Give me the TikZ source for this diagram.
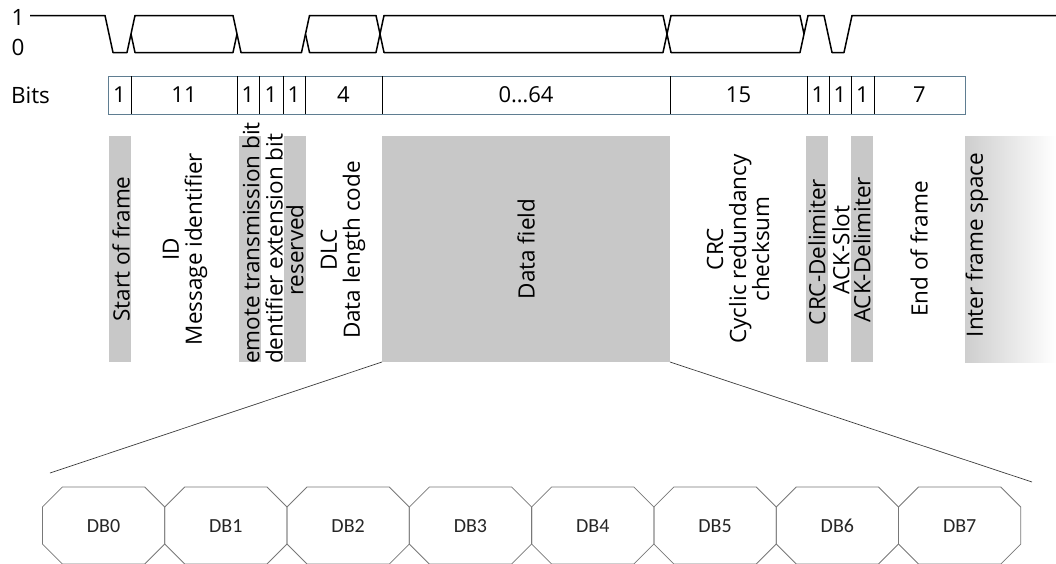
\documentclass[tikz,border=0pt]{standalone}
\usepackage{fontspec}
\setmainfont{Open Sans}
\newfontfamily\dbfont{Carlito}
\usetikzlibrary{calc}
\definecolor{bargray}{RGB}{200,200,200}
\definecolor{ifsgray}{RGB}{206,206,206}
\definecolor{boxedge}{RGB}{95,125,145}
\definecolor{octedge}{RGB}{120,120,120}
\definecolor{zoomcol}{RGB}{60,60,60}
\begin{document}
\begin{tikzpicture}[x=1pt,y=-1pt,
  lbl/.style={font=\fontsize{22.5}{23}\selectfont, inner sep=0pt, outer sep=0pt},
  vlbl/.style={lbl, rotate=90, align=center},
  field/.style={minimum height=226pt, inner sep=0pt, outer sep=0pt, anchor=north west},
  grayfield/.style={field, fill=bargray},
  cell/.style={minimum height=38pt, inner sep=0pt, outer sep=0pt, anchor=north west, font=\fontsize{22}{23}\selectfont},
  wave/.style={line width=1.5pt, black, line join=round},
  dbcell/.style={minimum width=122.3pt, minimum height=77pt, inner sep=0pt, outer sep=0pt, text height=13pt, text depth=0pt, font=\dbfont\fontsize{20}{22}\selectfont, text=black!85},
  dbtext/.style={inner sep=0pt, outer sep=0pt, text height=13pt, text depth=0pt, font=\dbfont\fontsize{20}{22}\selectfont, text=black!85},
  octline/.style={draw=octedge, line width=0.8pt},
  zoomline/.style={draw=zoomcol, line width=0.7pt}
]
\useasboundingbox (0,0) rectangle (1056,563);

% level labels
\node[lbl] (one) at (18,17) {1};
\node[lbl] (zero) at (18,47) {0};
\node[lbl, anchor=west] (bits) at (11,95) {Bits};

% waveform
\draw[wave] (30,15.5) -- (105,15.5) -- (113,52.5) -- (127,52.5) -- (135,15.5) -- (233,15.5) -- (241,52.5) -- (301.5,52.5) -- (309.5,15.5) -- (376,15.5) -- (384,52.5) -- (663,52.5) -- (671,15.5) -- (800,15.5) -- (804,34);
\draw[wave] (131,34) -- (135,52.5) -- (233,52.5) -- (237,34);
\draw[wave] (305.5,34) -- (309.5,52.5) -- (376,52.5) -- (384,15.5) -- (663,15.5) -- (671,52.5) -- (800,52.5) -- (808,15.5) -- (824,15.5) -- (832,52.5) -- (844,52.5) -- (852,15.5) -- (1056,15.5);

% bit count cells
\foreach \a/\b/\t/\n in {108/131/1/c1, 131/237/11/c2, 237/259/1/c3, 259/283/1/c4, 283/305/1/c5, 305/382/4/c6, 382/670/0…64/c7, 670/807/15/c8, 807/829/1/c9, 829/851/1/c10, 851/874/1/c11, 874/965/7/c12}{
  \node[cell, minimum width={(\b-\a)*1pt}] (\n) at (\a,76) {\t};
}
\draw[boxedge, line width=0.9pt] (c1.north west) rectangle (c12.south east);
\foreach \n in {1,...,11}{
  \draw[black, line width=0.9pt] (c\n.north east) -- (c\n.south east);
}

% field bars
\node[grayfield, minimum width=22pt] (sof) at (109,136) {};
\node[field, minimum width=106pt] (id) at (131,136) {};
\node[grayfield, minimum width=22pt] (rtr) at (239,136) {};
\node[field, minimum width=23pt] (ide) at (261,136) {};
\node[grayfield, minimum width=22pt] (res) at (284,136) {};
\node[field, minimum width=76pt] (dlc) at (306,136) {};
\node[grayfield, minimum width=288pt] (data) at (382,136) {};
\node[field, minimum width=136pt] (crc) at (670,136) {};
\node[grayfield, minimum width=22pt] (crcdel) at (806,136) {};
\node[field, minimum width=23pt] (ack) at (828,136) {};
\node[grayfield, minimum width=22pt] (ackdel) at (851,136) {};
\node[field, minimum width=91pt] (eof) at (873,136) {};
\node[field, minimum width=91pt, left color=ifsgray, right color=white] (ifs) at (965,136) {};

% field labels
\node[vlbl] (tsof) at (121,249) {Start of frame};
\node[vlbl] (tid) at (185,249) {ID\\Message identifier};
\begin{scope}
  \clip (0,0) rectangle (1056,362);
  \node[vlbl] (trtr) at (251,250) {Remote transmission bit};
  \node[vlbl] (tide) at (274,252) {Identifier extension bit};
\end{scope}
\node[vlbl] (tres) at (295,250) {reserved};
\node[vlbl] (tdlc) at (343,250) {DLC\\Data length code};
\node[vlbl] (tdata) at (526,249) {Data field};
\node[vlbl] (tcrc) at (738,249) {CRC\\Cyclic redundancy\\checksum};
\node[vlbl] (tcrcdel) at (817,252) {CRC-Delimiter};
\node[vlbl] (tack) at (841,250) {ACK-Slot};
\node[vlbl] (tackdel) at (862,250) {ACK-Delimiter};
\node[vlbl] (teof) at (919,249) {End of frame};
\node[vlbl] (tifs) at (977,245) {Inter frame space};

% data bytes
\foreach \i in {0,...,7}{
  \node[dbcell] (db\i) at ({103.55+122.3*\i},525.5) {};
  \node[dbtext] (dbt\i) at (db\i.center) {DB\i};
  \draw[octline] ($(db\i.north west)+(20,0)$) -- ($(db\i.north east)+(-20,0)$) -- ($(db\i.north east)+(0,20)$) -- ($(db\i.south east)+(0,-20)$) -- ($(db\i.south east)+(-20,0)$) -- ($(db\i.south west)+(20,0)$) -- ($(db\i.south west)+(0,-20)$) -- ($(db\i.north west)+(0,20)$) -- cycle;
}

% zoom lines
\coordinate (zl) at (50,473);
\coordinate (zr) at (1032,482);
\draw[zoomline] (data.south west) -- (zl);
\draw[zoomline] (data.south east) -- (zr);
\end{tikzpicture}
\end{document}
